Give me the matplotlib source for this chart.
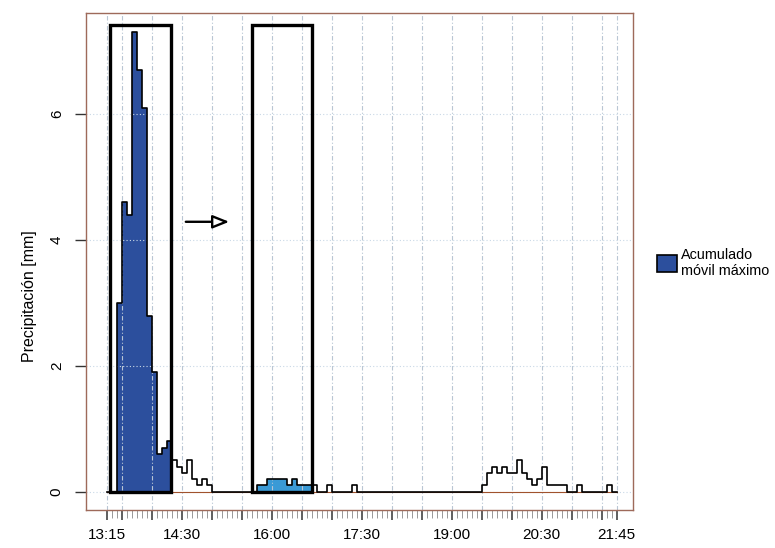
import matplotlib
matplotlib.use("Agg")
import matplotlib.pyplot as plt
from matplotlib.patches import Rectangle, Patch
import numpy as np
import pandas as pd

plt.rcParams['font.family'] = ['Liberation Sans', 'DejaVu Sans']

# 5-min precipitation [mm], 13:15 -> 21:45
precip = [
    0, 0, 3.0, 4.6, 4.4, 7.3, 6.7, 6.1, 2.8, 1.9, 0.6, 0.7, 0.8,   # 13:15-14:15
    0.5, 0.4, 0.3, 0.5, 0.2, 0.1, 0.2, 0.1,                        # 14:20-14:55
    0, 0, 0, 0, 0, 0, 0, 0, 0,                                     # 15:00-15:40
    0.1, 0.1, 0.2, 0.2, 0.2, 0.2, 0.1, 0.2, 0.1, 0.1, 0.1, 0.1,    # 15:45-16:40
    0, 0, 0.1, 0, 0, 0, 0, 0.1,                                    # 16:45-17:20
    0, 0, 0, 0, 0, 0, 0, 0, 0, 0, 0, 0,                            # 17:25-18:20
    0, 0, 0, 0, 0, 0, 0, 0, 0, 0, 0, 0, 0,                         # 18:25-19:25
    0.1, 0.3, 0.4, 0.3, 0.4, 0.3, 0.3, 0.5, 0.3, 0.2, 0.1, 0.2, 0.4,  # 19:30-20:30
    0.1, 0.1, 0.1, 0.1, 0, 0, 0.1, 0, 0, 0, 0, 0, 0.1, 0, 0,       # 20:35-21:45
]
start_time = '13:15'

# moving-window boxes (start, end) and the filled part
box_left = ['13:18', '15:40']
box_right = ['14:19', '16:40']
fill_from = ['13:20', '15:40']
fill_to = ['14:20', '16:40']
fill_colors = ['#2c4f9d', '#3a9ad6']
box_top = 7.42

label_times = ['13:15', '14:30', '16:00', '17:30', '19:00', '20:30', '21:45']


def hm(s):
    h, m = s.split(':')
    return int(h) * 60 + int(m)


def fmt(m):
    return '%d:%02d' % (m // 60, m % 60)


times = pd.date_range('2000-01-01 ' + start_time, periods=len(precip), freq='5min')
x = np.array(times.hour * 60 + times.minute, dtype=float)
y = np.array(precip)

fig = plt.figure(figsize=(7.75, 5.48), dpi=100)
ax = fig.add_axes([0.111, 0.0693, 0.7058, 0.9061])

frame_col = '#9e6a5a'
for s in ax.spines.values():
    s.set_color(frame_col)
    s.set_linewidth(1.0)

# filled windows
for f0, f1, c in zip(fill_from, fill_to, fill_colors):
    m = (x >= hm(f0)) & (x <= hm(f1))
    ax.fill_between(x[m], 0, y[m], step='post', color=c, lw=0, zorder=1)

# grid
major = sorted(set([hm(start_time)] + list(range(hm('13:30'), hm('21:45'), 30)) + [hm('21:45')]))
for v in major:
    ax.axvline(v, color='#b9c6d4', lw=0.8, ls=(0, (4, 2, 1, 2)), zorder=2)
for v in [0, 2, 4, 6]:
    ax.axhline(v, color='#c9d8e6', lw=0.8, ls=(0, (1, 2)), zorder=2)

# series
ax.plot([x[0], x[-1]], [0, 0], color='#a0522d', lw=0.8, zorder=3)
ax.step(x, y, where='post', color='black', lw=1.2, zorder=4)

for b0, b1 in zip(box_left, box_right):
    ax.add_patch(Rectangle((hm(b0), 0), hm(b1) - hm(b0), box_top, fill=False,
                           ec='black', lw=2.4, zorder=5))

ax.annotate('', xy=(hm('15:20') + 0.5, 4.29), xytext=(hm('14:31') + 0.5, 4.29),
            arrowprops=dict(arrowstyle='-|>,head_length=1.0,head_width=0.4',
                            fc='white', ec='black', lw=1.7), zorder=6)

ax.set_xlim(774.5, 1321.5)
ax.set_ylim(-0.29, 7.6)

ax.set_xticks(major)
ax.set_xticklabels([fmt(v) if fmt(v) in label_times else '' for v in major], fontsize=11)
ax.set_xticks(np.arange(hm('13:15'), hm('21:45') + 1, 5), minor=True)
ax.tick_params(axis='x', which='major', length=7, width=1.1, color='#333333', pad=6)
ax.tick_params(axis='x', which='minor', length=6, width=0.6, color='#888888')

ax.set_yticks([0, 2, 4, 6])
ax.set_yticklabels(['0', '2', '4', '6'], rotation=90, va='center', fontsize=11)
ax.tick_params(axis='y', length=8, width=1.0, color='#333333', pad=8)
ax.set_ylabel('Precipitación [mm]', fontsize=11.5)
ax.yaxis.set_label_coords(-0.09, 0.43)

handle = Patch(facecolor=fill_colors[0], edgecolor='black', lw=1.2)
fig.legend([handle], ['Acumulado\nmóvil máximo'], loc='center left',
           bbox_to_anchor=(0.831, 0.52), frameon=False, fontsize=10.4,
           handlelength=1.39, handleheight=1.39, handletextpad=0.3)

fig.savefig('out.png', dpi=100)
